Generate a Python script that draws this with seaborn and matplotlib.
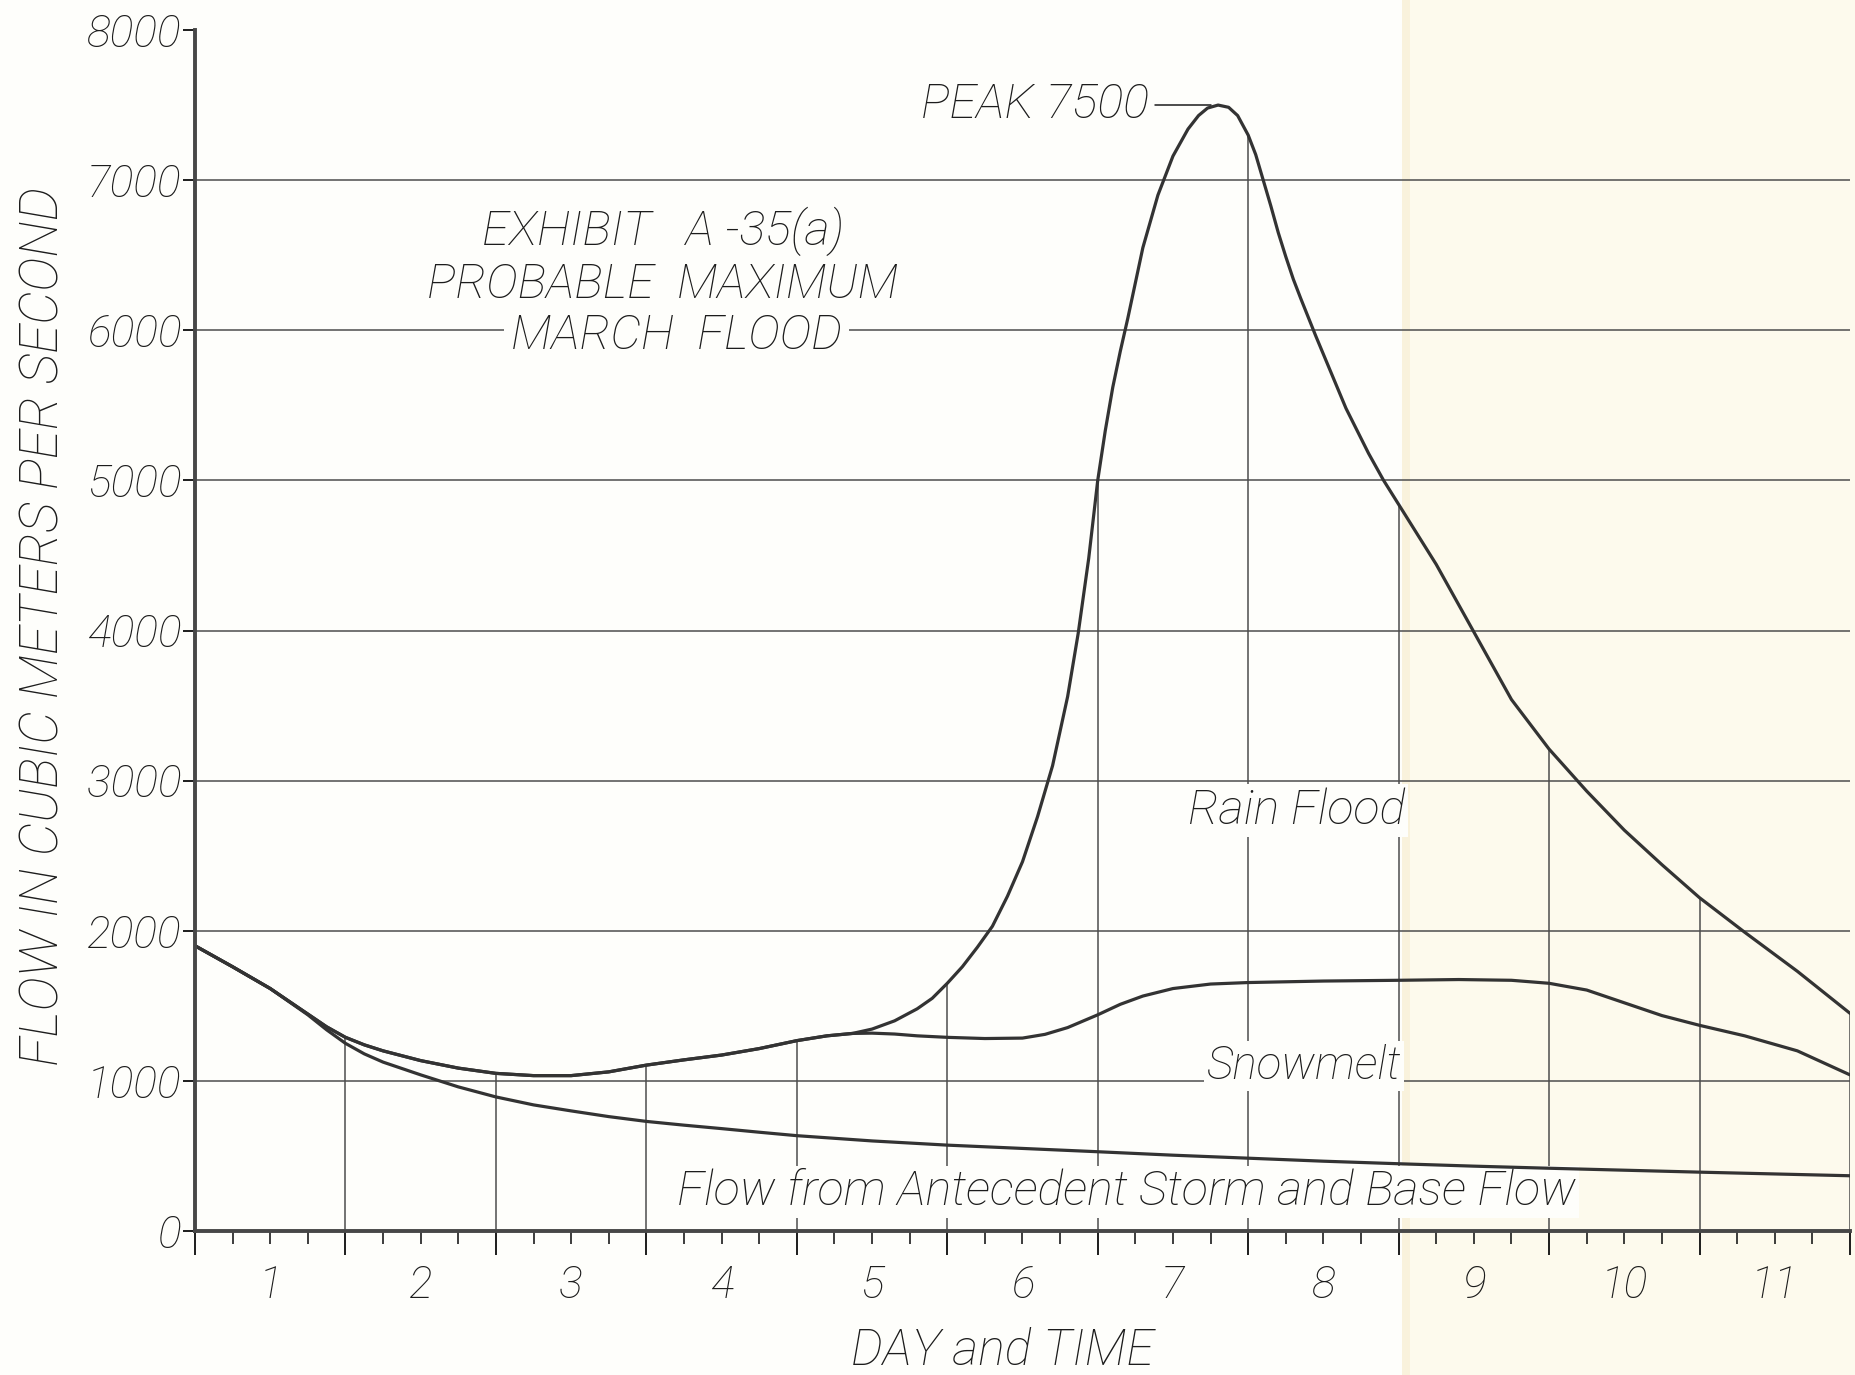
import numpy as np
import pandas as pd
import matplotlib
matplotlib.use("Agg")
import matplotlib.pyplot as plt
import seaborn as sns
from matplotlib.patches import Rectangle

# ---------------- data ----------------
rain_days = [0, 0.25, 0.5, 0.75, 0.875, 1.0, 1.125, 1.25, 1.5, 1.75, 2.0, 2.25, 2.5, 2.75, 3.0,
             3.25, 3.5, 3.75, 4.0, 4.2, 4.37, 4.5, 4.65, 4.8, 4.9, 5.0, 5.1, 5.2, 5.3, 5.4,
             5.5, 5.6, 5.7, 5.8, 5.87, 5.94, 6.0, 6.05, 6.1, 6.15, 6.2, 6.3, 6.4, 6.5, 6.6,
             6.67, 6.73, 6.8, 6.87, 6.93, 7.0, 7.05, 7.1, 7.15, 7.2, 7.25, 7.3, 7.35, 7.45,
             7.55, 7.65, 7.8, 7.9, 8.0, 8.25, 8.5, 8.75, 9.0, 9.25, 9.5, 9.75, 10.0, 10.3,
             10.65, 11.0]
rain_flow = [1900, 1760, 1615, 1445, 1360, 1290, 1240, 1200, 1135, 1085, 1050, 1035, 1035, 1060, 1105,
             1140, 1172, 1215, 1268, 1300, 1316, 1345, 1400, 1480, 1550, 1650, 1760, 1890, 2030, 2230,
             2460, 2760, 3100, 3560, 3980, 4480, 5000, 5330, 5620, 5860, 6080, 6550, 6900, 7160, 7340,
             7430, 7480, 7500, 7485, 7430, 7300, 7170, 7000, 6830, 6650, 6490, 6340, 6210, 5960,
             5720, 5480, 5180, 5000, 4840, 4440, 3990, 3540, 3210, 2930, 2670, 2440, 2220, 1990,
             1730, 1450]

snow_days = [0, 0.25, 0.5, 0.75, 0.875, 1.0, 1.125, 1.25, 1.5, 1.75, 2.0, 2.25, 2.5, 2.75, 3.0,
             3.25, 3.5, 3.75, 4.0, 4.2, 4.37, 4.5, 4.65, 4.8, 5.0, 5.25, 5.5, 5.65, 5.8, 6.0,
             6.15, 6.3, 6.5, 6.75, 7.0, 7.5, 8.0, 8.4, 8.75, 9.0, 9.25, 9.5, 9.75, 10.0, 10.3,
             10.65, 11.0]
snow_flow = [1900, 1760, 1615, 1445, 1360, 1290, 1240, 1200, 1135, 1085, 1050, 1035, 1035, 1060, 1105,
             1140, 1172, 1215, 1268, 1300, 1316, 1318, 1312, 1300, 1290, 1282, 1285, 1310, 1355, 1440,
             1510, 1565, 1615, 1645, 1655, 1665, 1670, 1675, 1670, 1650, 1605, 1520, 1435, 1370, 1300,
             1200, 1040]

base_days = [0, 0.25, 0.5, 0.75, 0.875, 1.0, 1.125, 1.25, 1.5, 1.75, 2.0, 2.25, 2.5, 2.75, 3.0,
             3.25, 3.5, 3.75, 4.0, 4.5, 5.0, 5.5, 6.0, 6.5, 7.0, 7.5, 8.0, 8.5, 9.0, 9.5, 10.0,
             10.5, 11.0]
base_flow = [1900, 1760, 1615, 1440, 1340, 1250, 1180, 1125, 1040, 960, 893, 840, 800, 762, 730,
             705, 682, 658, 635, 600, 572, 550, 528, 505, 485, 465, 448, 432, 418, 405, 392,
             380, 368]

y_ticks = [0, 1000, 2000, 3000, 4000, 5000, 6000, 7000, 8000]
y_tick_labels = ["0", "1000", "2000", "3000", "4000", "5000", "6000", "7000", "8000"]
day_labels = ["1", "2", "3", "4", "5", "6", "7", "8", "9", "10", "11"]
title_lines = ["EXHIBIT   A -35(a)", "PROBABLE  MAXIMUM", "MARCH  FLOOD"]
curve_labels = ["Rain Flood", "Snowmelt", "Flow from Antecedent Storm and Base Flow"]

# ---------------- style ----------------
sns.set_theme(style="white")
plt.rcParams["font.family"] = ["Roboto", "DejaVu Sans"]
plt.rcParams["font.style"] = "italic"
plt.rcParams["font.weight"] = "light"
plt.rcParams["axes.labelweight"] = "light"

INK = "#1c1c1c"
GRID = "#4d4d4d"
PAPER = "#fefefb"
CREAM = "#fdfaed"

W, H = 1856, 1375
fig = plt.figure(figsize=(W / 100, H / 100), dpi=100)
fig.patch.set_facecolor(PAPER)
fig.patches.append(Rectangle((1408 / W, 0), 1 - 1408 / W, 1, transform=fig.transFigure,
                             facecolor=CREAM, edgecolor="none", zorder=-10))
fig.patches.append(Rectangle((1402 / W, 0), 8 / W, 1, transform=fig.transFigure,
                             facecolor="#f9f2dc", edgecolor="none", zorder=-9))

ax = fig.add_axes([195 / W, 144 / H, 1655 / W, 1201 / H])
ax.set_facecolor("none")
ax.set_xlim(0, 11)
ax.set_ylim(0, 8000)

# grid: horizontal lines at the labelled levels, vertical lines up to the hydrograph
ax.hlines(y_ticks[1:-1], 0, 11, colors=GRID, linewidth=1.1, zorder=1)
day_edges = np.arange(1, 12)
tops = np.interp(day_edges, rain_days, rain_flow)
ax.vlines(day_edges, 0, tops, colors=GRID, linewidth=1.1, zorder=1)

# curves
df = pd.concat([
    pd.DataFrame({"day": rain_days, "flow": rain_flow, "series": "Rain Flood"}),
    pd.DataFrame({"day": snow_days, "flow": snow_flow, "series": "Snowmelt"}),
    pd.DataFrame({"day": base_days, "flow": base_flow, "series": "Base"}),
])
sns.lineplot(data=df, x="day", y="flow", hue="series", units="series", estimator=None,
             sort=False, palette=["#333333"] * 3, linewidth=2.3, legend=False, ax=ax, zorder=3)

# spines & ticks
for s in ["top", "right"]:
    ax.spines[s].set_visible(False)
for s in ["left", "bottom"]:
    ax.spines[s].set_linewidth(2.8)
    ax.spines[s].set_color("#474747")
    ax.spines[s].set_zorder(4)

ax.set_yticks(y_ticks, labels=y_tick_labels)
ax.tick_params(axis="y", which="major", direction="out", left=True, length=9, width=1.4,
               pad=1, labelsize=32, colors=INK)
ax.set_xticks(list(range(12)), labels=[""] * 12)
ax.tick_params(axis="x", which="major", direction="out", bottom=True, length=17, width=1.4,
               colors=INK)
minor_pos, minor_lab = [], []
for d in range(11):
    for q in (0.25, 0.5, 0.75):
        minor_pos.append(d + q)
        minor_lab.append(day_labels[d] if q == 0.5 else "")
ax.set_xticks(minor_pos, labels=minor_lab, minor=True)
ax.tick_params(axis="x", which="minor", direction="out", bottom=True, length=9, width=1.2,
               pad=15, labelsize=32, colors=INK)
ax.grid(False)

ax.set_xlabel("DAY and TIME", fontsize=36, color=INK, fontweight="light")
ax.xaxis.set_label_coords(0.488, -0.080)
ax.set_ylabel("FLOW IN CUBIC METERS PER SECOND", fontsize=38, color=INK, fontweight="light")
ax.yaxis.set_label_coords(-0.076, 0.503)

# title block (covers the 6000 grid line where it passes)
title_y = [6660, 6305, 5965]
title_x = [3.11, 3.11, 3.2]
for t, xx, yy in zip(title_lines, title_x, title_y):
    ax.text(xx, yy, t, ha="center", va="center", fontsize=35, color=INK, zorder=2,
            bbox=dict(facecolor=PAPER, edgecolor="none", pad=5 if t.startswith("MARCH") else 0))

# peak annotation
pk = int(np.argmax(rain_flow))
peak_day, peak_val = rain_days[pk], rain_flow[pk]
ax.text(peak_day - 0.46, peak_val, f"PEAK {peak_val}", ha="right", va="center",
        fontsize=35, color=INK, zorder=5)
ax.plot([peak_day - 0.42, peak_day - 0.05], [peak_val, peak_val], color=INK, lw=1.1, zorder=4)

# curve labels (hide grid lines behind them, curves stay on top)
lab_pos = [(7.32, 2800), (7.37, 1100), (6.19, 262)]
lab_size = [35, 33, 35]
for t, (xx, yy), fs in zip(curve_labels, lab_pos, lab_size):
    ax.text(xx, yy, t, ha="center", va="center", fontsize=fs, color=INK, zorder=2,
            bbox=dict(facecolor=PAPER, edgecolor="none", pad=2))

fig.savefig("out.png", dpi=100, facecolor=fig.get_facecolor())
